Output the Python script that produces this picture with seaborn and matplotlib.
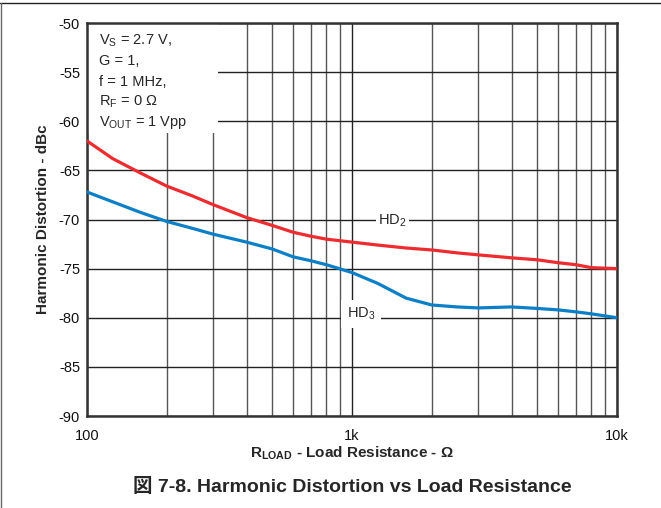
import numpy as np
import pandas as pd
import seaborn as sns
import matplotlib.pyplot as plt
from matplotlib.patches import Rectangle
from matplotlib.lines import Line2D

sns.set_style('white')
plt.rcParams['font.family'] = ['Liberation Sans', 'Noto Sans CJK JP']
plt.rcParams['mathtext.fontset'] = 'custom'

# ---------------- data ----------------
r_load = [100, 125, 160, 200, 250, 300, 400, 500, 600, 700, 800, 1000,
          1250, 1600, 2000, 2500, 3000, 4000, 5000, 6000, 7000, 8000, 10000]
hd2 = [-62.0, -63.8, -65.3, -66.6, -67.6, -68.5, -69.8, -70.6, -71.3, -71.7, -72.0, -72.3,
       -72.6, -72.9, -73.1, -73.4, -73.6, -73.9, -74.1, -74.4, -74.6, -74.9, -75.0]
hd3 = [-67.2, -68.2, -69.3, -70.2, -70.9, -71.5, -72.3, -73.0, -73.8, -74.2, -74.6, -75.4,
       -76.5, -78.0, -78.7, -78.9, -79.0, -78.9, -79.05, -79.2, -79.4, -79.6, -80.0]
x_ticks = [100, 1000, 10000]
x_ticklabels = ['100', '1k', '10k']
y_ticks = [-90, -85, -80, -75, -70, -65, -60, -55, -50]
conditions = ['V$_\\mathregular{S}$ = 2.7 V,', 'G = 1,', 'f = 1 MHz,',
              'R$_\\mathregular{F}$ = 0 Ω', 'V$_\\mathregular{OUT}$ = 1 Vpp']

df = pd.DataFrame({'R': r_load, 'HD2': hd2, 'HD3': hd3})

# ---------------- figure ----------------
fig = plt.figure(figsize=(6.61, 5.08), dpi=100)
ax = fig.add_axes([0.1316, 0.1811, 0.8018, 0.7736])

sns.lineplot(data=df, x='R', y='HD2', color='#EE2B2F', lw=2.3, ax=ax, zorder=5)
sns.lineplot(data=df, x='R', y='HD3', color='#0B7FC7', lw=2.3, ax=ax, zorder=5)

ax.set_xscale('log')
ax.set_xlim(100, 10000)
ax.set_ylim(-90, -50)
ax.set_xticks(x_ticks)
ax.set_xticklabels(x_ticklabels)
ax.set_yticks(y_ticks)
ax.set_yticklabels([str(v) for v in y_ticks])
ax.tick_params(axis='both', length=0, labelsize=10.5, colors='#111111')
ax.tick_params(axis='x', pad=9)
ax.tick_params(axis='y', pad=5)

# grid
ax.minorticks_on()
ax.tick_params(which='minor', length=0)
ax.yaxis.set_minor_locator(plt.NullLocator())
ax.grid(which='major', color='#222222', lw=1.0, zorder=1)
ax.grid(which='minor', axis='x', color='#555555', lw=1.0, zorder=1)
ax.set_axisbelow(True)
for s in ax.spines.values():
    s.set_color('#333333')
    s.set_linewidth(1.8)

ax.set_xlabel('R$_\\mathregular{LOAD}$ - Load Resistance - Ω', fontsize=11, fontweight='bold', labelpad=1)
ax.set_ylabel('Harmonic Distortion - dBc', fontsize=11, fontweight='bold', labelpad=6)

# conditions box
ax.add_patch(Rectangle((0, 0.72), 0.247, 0.28, transform=ax.transAxes,
                       facecolor='white', edgecolor='none', zorder=2))
for i, line in enumerate(conditions):
    ax.text(0.022, 0.955 - i * 0.052, line, transform=ax.transAxes, fontsize=10.5,
            va='center', ha='left', zorder=3)

# series labels
ax.text(1420, -70.1, 'HD$_\\mathregular{2}$', fontsize=10.5, ha='center', va='center', zorder=3,
        bbox=dict(facecolor='white', edgecolor='none', pad=1.5))
ax.text(1080, -79.6, 'HD$_\\mathregular{3}$', fontsize=10.5, ha='center', va='center', zorder=3,
        bbox=dict(facecolor='white', edgecolor='none', pad=4))

fig.text(0.533, 0.041, '図 7-8. Harmonic Distortion vs Load Resistance', fontsize=14,
         fontweight='bold', ha='center', va='center')

# outer frame
fig.add_artist(Line2D([0, 1], [0.994, 0.994], color='#222222', lw=1.0))
fig.add_artist(Line2D([0.002, 0.002], [0, 0.994], color='#666666', lw=1.0))

fig.savefig('out.png', dpi=100)
